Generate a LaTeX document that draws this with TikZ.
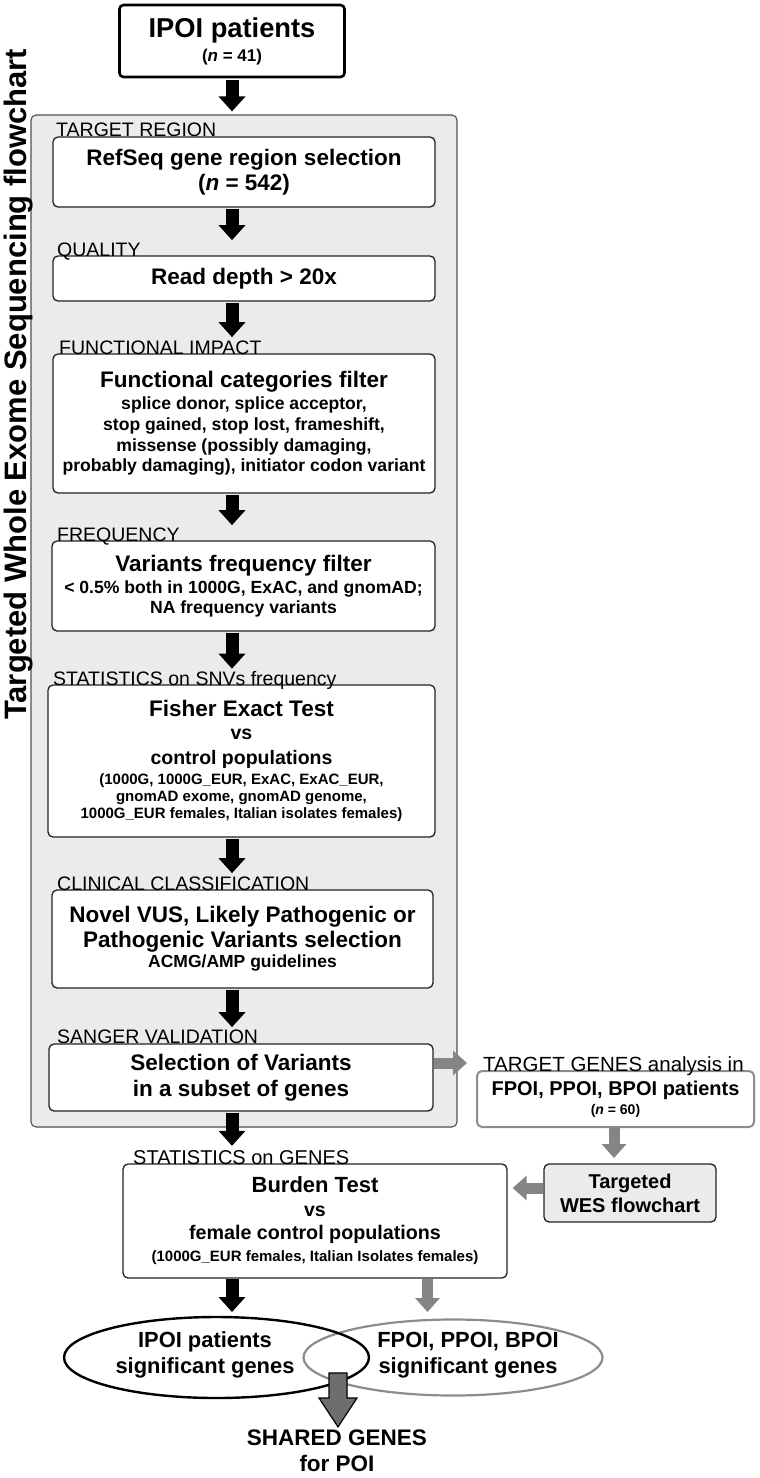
\documentclass[tikz,border=0pt]{standalone}
\usepackage{fontspec}
\setmainfont{Liberation Sans}
\usetikzlibrary{arrows.meta,shapes.geometric,calc}
\definecolor{panelgray}{HTML}{EBEBEB}
\definecolor{paneledge}{HTML}{505050}
\definecolor{arrgray}{HTML}{858585}
\definecolor{edgegray}{HTML}{8C8C8C}
\definecolor{boxedge}{HTML}{222222}
\definecolor{sharedgray}{HTML}{6E6E6E}
\newcommand\fsz[1]{\fontsize{#1}{#1}\selectfont}
\begin{document}
\begin{tikzpicture}[x=1pt,y=1pt,
  box/.style={draw=boxedge, line width=1.3pt, rounded corners=5pt, fill=white, inner sep=0pt, align=center},
  lbl/.style={inner sep=0pt, anchor=base west, font=\fontsize{19.5}{22}\selectfont},
  txt/.style={inner sep=0pt, align=center},
  blkarr/.style={draw=black, line width=13pt, -{Triangle[width=26pt,length=15pt]}},
  gryarr/.style={draw=arrgray, line width=11pt, -{Triangle[width=24pt,length=14pt]}},
]
\useasboundingbox (0,0) rectangle (760,-1478);

% panel
\node[draw=paneledge, line width=1.1pt, fill=panelgray, rounded corners=5pt, minimum width=426pt, minimum height=1012pt, inner sep=0pt] (panel) at (244,-621) {};
\node[rotate=90, anchor=base, inner sep=0pt, font=\fontsize{31}{36}\selectfont\bfseries] (vt) at (27,-384.3) {Targeted Whole Exome Sequencing flowchart};

% top box
\node[box, draw=black, line width=2.6pt, rounded corners=4pt, minimum width=225pt, minimum height=72pt, font=\fontsize{27.3}{24}\selectfont\bfseries] (top) at (232,-41)
  {IPOI patients\\\fsz{17}(\textit{n} = 41)};

% boxes
\node[box, minimum width=382pt, minimum height=70pt, font=\fontsize{22.5}{25}\selectfont\bfseries] (b1) at (244,-172)
  {RefSeq gene region selection\\(\textit{n} = 542)};
\node[box, minimum width=382pt, minimum height=45pt, font=\fontsize{22.5}{25}\selectfont\bfseries] (b2) at (244,-278.5)
  {Read depth > 20x};
\node[box, minimum width=382pt, minimum height=139pt, font=\fontsize{17.6}{20.8}\selectfont\bfseries] (b3) at (244,-423.5)
  {\fsz{22.5}Functional categories filter\\[1.2pt]
   splice donor, splice acceptor,\\
   stop gained, stop lost, frameshift,\\
   missense (possibly damaging,\\
   probably damaging), initiator codon variant};
\node[box, minimum width=383pt, minimum height=90pt, font=\fontsize{17.6}{20}\selectfont\bfseries] (b4) at (243.5,-586)
  {\fsz{22.5}Variants frequency filter\\[2pt]
   \textless{} 0.5\% both in 1000G, ExAC, and gnomAD;\\
   NA frequency variants};
\node[box, minimum width=387pt, minimum height=152pt, font=\fontsize{15}{16.8}\selectfont\bfseries] (b5) at (241.5,-761)
  {\fsz{22.5}Fisher Exact Test\\[6.2pt]
   \fsz{19.5}vs\\[8.2pt]
   \fsz{19.5}control populations\\[3.2pt]
   (1000G, 1000G\_EUR, ExAC, ExAC\_EUR,\\
   gnomAD exome, gnomAD genome,\\
   1000G\_EUR females, Italian isolates females)};
\node[box, minimum width=381pt, minimum height=98pt, font=\fontsize{22.5}{25}\selectfont\bfseries] (b6) at (242.5,-939)
  {Novel VUS, Likely Pathogenic or\\
   Pathogenic Variants selection\\[-5pt]
   \fsz{17.5}ACMG/AMP guidelines};
\node[box, minimum width=384pt, minimum height=67pt, font=\fontsize{22.5}{26}\selectfont\bfseries] (b7) at (241,-1077.5)
  {Selection of Variants\\in a subset of genes};
\node[box, minimum width=384pt, minimum height=114pt, font=\fontsize{19.5}{23}\selectfont\bfseries] (burden) at (315,-1221)
  {\fsz{22}Burden Test\\[1pt]
   vs\\
   \fsz{19.7}female control populations\\[-1pt]
   \fsz{15}(1000G\_EUR females, Italian Isolates females)};
\node[box, draw=edgegray, line width=2pt, minimum width=277pt, minimum height=56pt, font=\fontsize{20}{19}\selectfont\bfseries] (r1) at (615.5,-1099)
  {FPOI, PPOI, BPOI patients\\
   \fsz{14}(\textit{n} = 60)};
\node[box, fill=panelgray, minimum width=172pt, minimum height=58pt, font=\fontsize{20}{24}\selectfont\bfseries] (r2) at (630,-1193)
  {Targeted\\WES flowchart};

% labels
\node[lbl] (l1) at (56,-136) {TARGET REGION};
\node[lbl] (l2) at (57,-256) {QUALITY};
\node[lbl] (l3) at (59,-354) {FUNCTIONAL IMPACT};
\node[lbl] (l4) at (57,-541) {FREQUENCY};
\node[lbl] (l5) at (53,-685) {STATISTICS on SNVs frequency};
\node[lbl] (l6) at (57,-890) {CLINICAL CLASSIFICATION};
\node[lbl] (l7) at (57,-1043) {SANGER VALIDATION};
\node[lbl, font=\fontsize{20}{22}\selectfont] (l8) at (133,-1164) {STATISTICS on GENES};
\node[lbl, font=\fontsize{20.5}{22}\selectfont] (lt) at (483,-1071) {TARGET GENES analysis in};

% ellipses
\node[ellipse, draw=edgegray, line width=2.2pt, minimum width=299pt, minimum height=76pt, inner sep=0pt] (e2) at (453,-1357.5) {};
\node[ellipse, draw=black, line width=2.4pt, minimum width=305pt, minimum height=81pt, inner sep=0pt] (e1) at (216.5,-1357.5) {};
\node[txt, font=\fontsize{21.9}{26}\selectfont\bfseries] (t1) at (205,-1355) {IPOI patients\\significant genes};
\node[txt, font=\fontsize{21.9}{26}\selectfont\bfseries] (t2) at (468,-1355) {FPOI, PPOI, BPOI\\significant genes};
\node[txt, font=\fontsize{22.5}{26}\selectfont\bfseries] (shared) at (337,-1451) {SHARED GENES\\for POI};

% black arrows
\draw[blkarr] ([yshift=-2pt]top.south) -- ([yshift=3pt]top.south |- panel.north);
\draw[blkarr] ([yshift=-1pt]b1.south -| top.south) -- ([yshift=2pt]l2.north -| top.south);
\draw[blkarr] ([yshift=-1pt]b2.south -| top.south) -- ([yshift=3pt]l3.north -| top.south);
\draw[blkarr] ([yshift=-1pt]b3.south -| top.south) -- ([yshift=2pt]l4.north -| top.south);
\draw[blkarr] ([yshift=-1pt]b4.south -| top.south) -- ([yshift=2pt]l5.north -| top.south);
\draw[blkarr] ([yshift=-1pt]b5.south -| top.south) -- ([yshift=3pt]l6.north -| top.south);
\draw[blkarr] ([yshift=-1pt]b6.south -| top.south) -- ([yshift=2pt]l7.north -| top.south);
\draw[blkarr] ([yshift=-1pt]b7.south -| top.south) -- ([yshift=4pt]l8.north -| top.south);
\coordinate (k8) at (232,-1312);
\draw[blkarr] (burden.south -| k8) -- (k8);

% gray arrows
\coordinate (g1) at (467,-1063);
\draw[gryarr] (b7.east |- g1) -- (g1);
\coordinate (g2) at (614,-1158);
\draw[gryarr] (r1.south -| g2) -- (g2);
\draw[gryarr] ([yshift=5pt]r2.west) -- ([yshift=5pt,xshift=5pt]r2.west -| burden.east);
\coordinate (g4) at (427.5,-1312);
\draw[gryarr] (burden.south -| g4) -- (g4);

% shared arrow
\coordinate (sx) at (338,-1373);
\draw[fill=sharedgray, draw=black, line width=1.2pt, line join=miter]
  ([xshift=-9pt]sx) -- ([xshift=9pt]sx) -- ++(0,-25) -- ++(10,0) -- ($(shared.north)+(1,3)$) -- ([xshift=-19pt,yshift=-25pt]sx) -- ++(10,0) -- cycle;
\end{tikzpicture}
\end{document}
